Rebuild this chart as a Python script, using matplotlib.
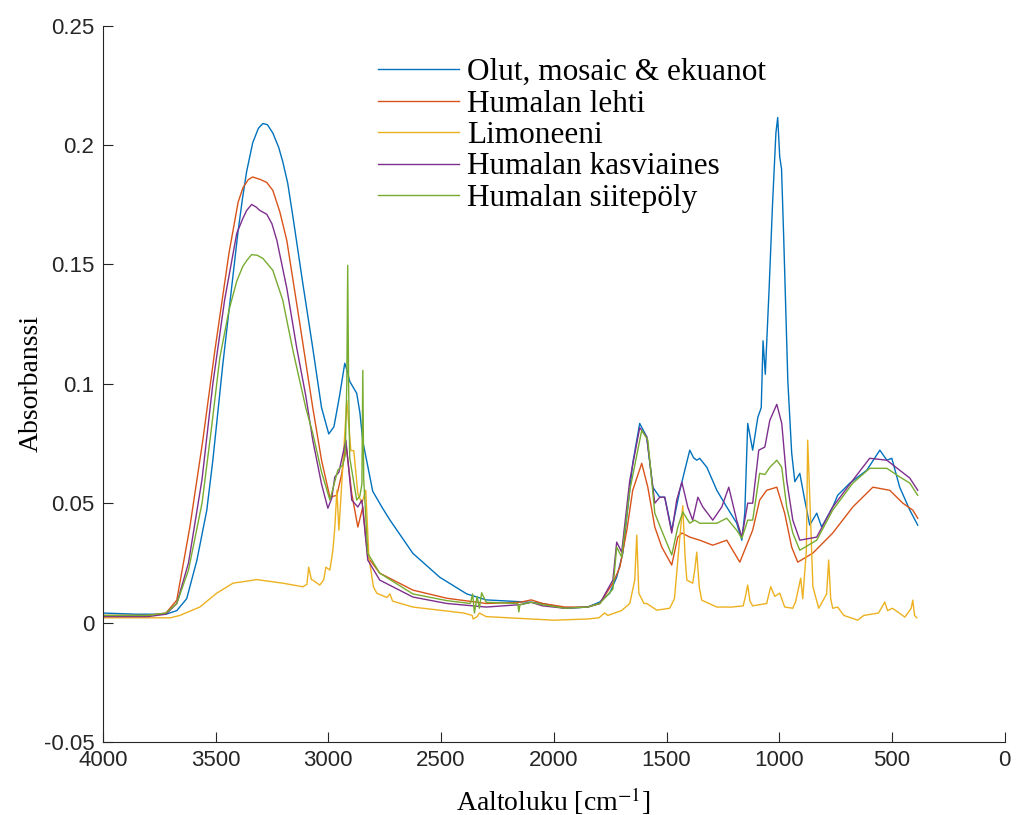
import numpy as np
import matplotlib
matplotlib.use("Agg")
import matplotlib.pyplot as plt
from matplotlib.ticker import FuncFormatter

# --- data (wavenumber cm-1, absorbance) ---
wn_olut = [4000, 3850, 3720, 3672, 3628, 3583, 3539, 3512, 3468, 3423, 3400, 3380, 3362, 3335,
           3310, 3290, 3270, 3246, 3220, 3202, 3180, 3157, 3113, 3069, 3030, 2998, 2975, 2950,
           2927, 2915, 2905, 2874, 2860, 2847, 2803, 2760, 2727, 2625, 2506, 2386, 2300, 2200,
           2100, 2050, 1950, 1850, 1796, 1752, 1721, 1694, 1650, 1619, 1588, 1561, 1530, 1508,
           1477, 1441, 1397, 1380, 1366, 1353, 1321, 1277, 1233, 1189, 1166, 1153, 1140, 1118,
           1095, 1080, 1072, 1062, 1045, 1030, 1015, 1007, 998, 990, 980, 962, 945, 931, 909,
           887, 865, 834, 812, 763, 741, 687, 612, 554, 523, 501, 466, 421, 386]
a_olut = [0.004, 0.0035, 0.0035, 0.005, 0.010, 0.026, 0.047, 0.068, 0.108, 0.145, 0.164, 0.178,
          0.189, 0.201, 0.207, 0.209, 0.2085, 0.205, 0.199, 0.193, 0.184, 0.170, 0.142, 0.115,
          0.090, 0.079, 0.082, 0.095, 0.1086, 0.105, 0.101, 0.096, 0.088, 0.076, 0.055, 0.048,
          0.043, 0.029, 0.019, 0.012, 0.0095, 0.009, 0.0085, 0.008, 0.006, 0.0065, 0.0086,
          0.0123, 0.019, 0.029, 0.0667, 0.0834, 0.0778, 0.0567, 0.0525, 0.0525, 0.0387, 0.0554,
          0.0722, 0.069, 0.068, 0.0688, 0.065, 0.0554, 0.0484, 0.0417, 0.0345, 0.0458, 0.0834,
          0.0722, 0.086, 0.090, 0.118, 0.104, 0.140, 0.175, 0.205, 0.2115, 0.195, 0.190, 0.160,
          0.101, 0.071, 0.059, 0.0625, 0.0513, 0.0408, 0.0458, 0.040, 0.0484, 0.0533, 0.0584,
          0.0638, 0.0722, 0.068, 0.0688, 0.0567, 0.0471, 0.0408]

wn_lehti = [4000, 3800, 3720, 3672, 3614, 3557, 3503, 3440, 3400, 3379, 3355, 3335, 3300, 3273,
            3246, 3215, 3184, 3126, 3069, 3030, 2993, 2962, 2940, 2922, 2896, 2869, 2847, 2825,
            2772, 2625, 2475, 2300, 2150, 2100, 2050, 1950, 1850, 1796, 1738, 1707, 1676, 1650,
            1610, 1583, 1552, 1521, 1477, 1450, 1432, 1397, 1353, 1295, 1233, 1175, 1118, 1087,
            1056, 1011, 976, 945, 918, 851, 763, 674, 585, 510, 452, 408, 386]
a_lehti = [0.003, 0.003, 0.004, 0.0094, 0.040, 0.076, 0.114, 0.155, 0.176, 0.182, 0.1855, 0.1866,
           0.1855, 0.1843, 0.181, 0.172, 0.160, 0.125, 0.090, 0.068, 0.0525, 0.0533, 0.0625,
           0.075, 0.054, 0.040, 0.0484, 0.0274, 0.0207, 0.0136, 0.0102, 0.008, 0.0085, 0.0095,
           0.008, 0.0065, 0.0065, 0.008, 0.0165, 0.0232, 0.0387, 0.0554, 0.0667, 0.0567, 0.040,
           0.0316, 0.0241, 0.0358, 0.0375, 0.0358, 0.0345, 0.0324, 0.0345, 0.0253, 0.0387, 0.0513,
           0.0554, 0.0567, 0.0458, 0.0316, 0.0253, 0.0291, 0.0375, 0.0484, 0.0567, 0.0554, 0.050,
           0.0471, 0.0437]

wn_limo = [4000, 3800, 3700, 3658, 3570, 3495, 3423, 3317, 3202, 3113, 3095, 3087, 3075, 3069,
           3038, 3020, 3011, 2993, 2980, 2971, 2962, 2953, 2936, 2918, 2900, 2887, 2869, 2851,
           2834, 2820, 2800, 2785, 2740, 2727, 2715, 2625, 2400, 2362, 2358, 2340, 2330, 2300,
           2200, 2000, 1850, 1800, 1775, 1760, 1700, 1663, 1641, 1632, 1623, 1600, 1588, 1543,
           1486, 1465, 1455, 1441, 1428, 1418, 1410, 1384, 1375, 1366, 1355, 1344, 1277, 1211,
           1160, 1150, 1140, 1130, 1118, 1056, 1038, 1020, 998, 976, 940, 927, 905, 896, 880,
           874, 860, 851, 825, 790, 781, 772, 763, 741, 714, 652, 625, 560, 532, 520, 498, 443,
           415, 408, 400, 390]
a_limo = [0.002, 0.002, 0.002, 0.003, 0.0065, 0.0123, 0.0165, 0.018, 0.0165, 0.015, 0.016,
          0.0232, 0.018, 0.0178, 0.0157, 0.018, 0.0232, 0.022, 0.030, 0.040, 0.0554, 0.0387,
          0.065, 0.093, 0.072, 0.072, 0.054, 0.050, 0.0554, 0.0274, 0.015, 0.0123, 0.0105, 0.012,
          0.009, 0.0065, 0.004, 0.003, 0.0015, 0.0025, 0.004, 0.0025, 0.002, 0.001, 0.0015,
          0.002, 0.004, 0.003, 0.005, 0.008, 0.0178, 0.0366, 0.0123, 0.008, 0.008, 0.0052, 0.006,
          0.010, 0.0207, 0.0358, 0.049, 0.028, 0.0178, 0.0165, 0.022, 0.0295, 0.015, 0.0094,
          0.0065, 0.0065, 0.007, 0.011, 0.0157, 0.009, 0.007, 0.008, 0.015, 0.011, 0.0123,
          0.0065, 0.006, 0.009, 0.0186, 0.010, 0.030, 0.0764, 0.040, 0.015, 0.006, 0.012, 0.0262,
          0.010, 0.006, 0.0065, 0.003, 0.001, 0.003, 0.004, 0.0086, 0.005, 0.006, 0.0023, 0.006,
          0.0094, 0.003, 0.002]

wn_kasvi = [4000, 3800, 3720, 3672, 3620, 3560, 3512, 3460, 3406, 3380, 3362, 3340, 3320, 3304,
            3273, 3250, 3228, 3184, 3140, 3100, 3069, 3030, 3002, 2985, 2971, 2953, 2922, 2896,
            2869, 2851, 2825, 2772, 2625, 2475, 2300, 2150, 2100, 2050, 1950, 1850, 1796, 1738,
            1721, 1699, 1663, 1619, 1588, 1552, 1530, 1508, 1477, 1455, 1432, 1406, 1384, 1361,
            1339, 1295, 1255, 1224, 1189, 1166, 1140, 1118, 1091, 1064, 1042, 1011, 989, 967,
            940, 909, 834, 763, 674, 599, 523, 466, 421, 386]
a_kasvi = [0.0025, 0.0025, 0.0035, 0.008, 0.025, 0.060, 0.100, 0.135, 0.163, 0.169, 0.1726,
           0.1751, 0.174, 0.1726, 0.171, 0.167, 0.160, 0.140, 0.115, 0.095, 0.0764, 0.058,
           0.0479, 0.052, 0.061, 0.063, 0.0764, 0.0513, 0.0484, 0.0513, 0.0262, 0.0178, 0.0107,
           0.008, 0.0065, 0.0075, 0.0085, 0.007, 0.006, 0.0065, 0.008, 0.0178, 0.0337, 0.0295,
           0.0596, 0.0816, 0.0778, 0.050, 0.0525, 0.0525, 0.0375, 0.0513, 0.0588, 0.0484, 0.0429,
           0.0525, 0.0484, 0.0429, 0.0484, 0.0567, 0.0429, 0.0358, 0.050, 0.050, 0.0722, 0.0735,
           0.0847, 0.0914, 0.0834, 0.0596, 0.0429, 0.0345, 0.0358, 0.0484, 0.0596, 0.0688,
           0.068, 0.0638, 0.0605, 0.0554]

wn_siite = [4000, 3800, 3720, 3672, 3620, 3560, 3520, 3481, 3440, 3406, 3380, 3362, 3340, 3315,
            3290, 3246, 3202, 3157, 3100, 3069, 3030, 2993, 2958, 2936, 2925, 2918, 2914, 2910,
            2905, 2874, 2860, 2851, 2847, 2843, 2825, 2772, 2625, 2475, 2370, 2360, 2352, 2340,
            2330, 2320, 2300, 2160, 2155, 2150, 2100, 2050, 1950, 1850, 1796, 1738, 1721, 1699,
            1663, 1610, 1583, 1552, 1517, 1477, 1450, 1428, 1397, 1375, 1353, 1308, 1277, 1233,
            1189, 1166, 1140, 1118, 1087, 1064, 1042, 1011, 989, 967, 940, 909, 834, 763, 674,
            599, 523, 466, 421, 386]
a_siite = [0.003, 0.003, 0.004, 0.008, 0.022, 0.050, 0.080, 0.111, 0.131, 0.143, 0.149, 0.1516,
           0.1541, 0.1538, 0.1525, 0.1475, 0.135, 0.114, 0.090, 0.0793, 0.063, 0.0513, 0.0638,
           0.066, 0.070, 0.100, 0.1496, 0.100, 0.069, 0.0513, 0.053, 0.058, 0.1056, 0.060, 0.029,
           0.0207, 0.012, 0.0092, 0.008, 0.012, 0.004, 0.011, 0.006, 0.0125, 0.0085, 0.008,
           0.0045, 0.0075, 0.0085, 0.0075, 0.006, 0.0065, 0.008, 0.014, 0.0316, 0.0274, 0.0554,
           0.0805, 0.0764, 0.0458, 0.0375, 0.0283, 0.040, 0.0463, 0.0416, 0.0429, 0.0416, 0.0416,
           0.0416, 0.0437, 0.0387, 0.0353, 0.0429, 0.0429, 0.0625, 0.062, 0.065, 0.068, 0.065,
           0.0484, 0.0375, 0.0303, 0.0345, 0.0471, 0.0584, 0.0646, 0.0646, 0.061, 0.0584, 0.0533]

labels = ["Olut, mosaic & ekuanot", "Humalan lehti", "Limoneeni",
          "Humalan kasviaines", "Humalan siitepöly"]
colors = ["#0072BD", "#D95319", "#EDB120", "#7E2F8E", "#77AC30"]

plt.rcParams['mathtext.fontset'] = 'stix'
serif = ['Liberation Serif', 'DejaVu Serif']
sans = ['Liberation Sans', 'DejaVu Sans']

fig = plt.figure(figsize=(10.18, 8.15), dpi=100)
ax = fig.add_axes([0.101, 0.0896, 0.886, 0.879])

series = [(wn_olut, a_olut), (wn_lehti, a_lehti), (wn_limo, a_limo),
          (wn_kasvi, a_kasvi), (wn_siite, a_siite)]
for (x, y), lab, c in zip(series, labels, colors):
    ax.plot(x, y, color=c, lw=1.0, label=lab)

ax.set_xlim(4000, 0)
ax.set_ylim(-0.05, 0.25)
ax.set_xticks(np.arange(4000, -1, -500))
ax.set_yticks([-0.05, 0, 0.05, 0.1, 0.15, 0.2, 0.25])
ax.yaxis.set_major_formatter(FuncFormatter(lambda v, p: '%g' % round(v, 3)))

for s in ['top', 'right']:
    ax.spines[s].set_visible(False)
for s in ['left', 'bottom']:
    ax.spines[s].set_color('#262626')
    ax.spines[s].set_linewidth(0.8)
ax.tick_params(direction='in', length=7, width=0.8, color='#262626',
               labelcolor='#262626', labelsize=16, pad=6)
for t in ax.get_xticklabels() + ax.get_yticklabels():
    t.set_family(sans)

ax.set_xlabel(r'Aaltoluku [cm$^{-1}$]', family=serif, fontsize=20, labelpad=10)
ax.set_ylabel('Absorbanssi', family=serif, fontsize=20, labelpad=0)

fig.legend(loc='upper left', bbox_to_anchor=(378 / 1018, 1 - 58 / 815),
           bbox_transform=fig.transFigure, frameon=False, borderpad=0,
           borderaxespad=0, handlelength=2.6, handletextpad=0.26, labelspacing=0.08,
           prop={'family': serif, 'size': 22.5})

fig.savefig('out.png', dpi=100)
